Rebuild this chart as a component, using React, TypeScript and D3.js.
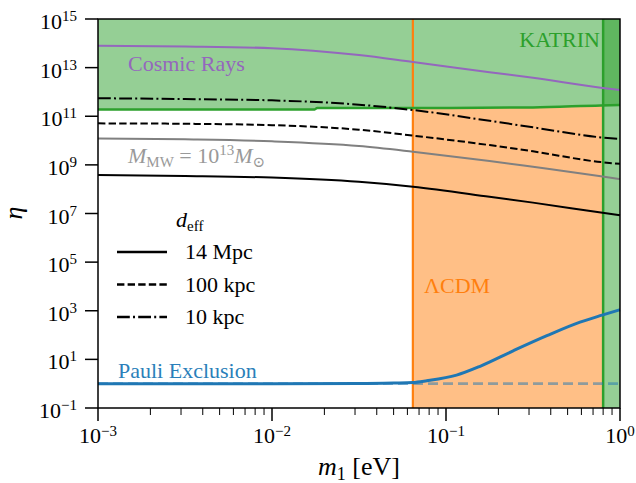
import React from 'react';
import * as d3 from 'd3';

// m1 grid (eV) shared by the d_eff / cosmic ray curves
const massGrid = [0.001, 0.00316, 0.01, 0.0316, 0.0646, 0.178, 0.316, 0.776, 1];
const etaCosmicRays = [7.9e13, 7.4e13, 6.3e13, 3.3e13, 1.7e13, 6.5e12, 3.8e12, 1.5e12, 1.2e12];
const eta10kpc = [5.5e11, 5.1e11, 4.5e11, 3.0e11, 1.8e11, 6.5e10, 3.5e10, 1.35e10, 1.15e10];
const eta100kpc = [5.1e10, 4.9e10, 4.3e10, 2.8e10, 1.6e10, 6.5e9, 3.6e9, 1.3e9, 1.1e9];
const etaMW = [1.23e10, 1.12e10, 9.3e9, 6.0e9, 3.5e9, 1.45e9, 8.3e8, 3.4e8, 2.6e8];
const eta14Mpc = [3.8e8, 3.5e8, 3.0e8, 2.0e8, 1.26e8, 4.9e7, 2.8e7, 1.1e7, 8.5e6];

// KATRIN bound on eta
const katrinMass = [0.001, 0.0176, 0.0182, 0.0646, 0.316, 0.776, 1];
const katrinEta = [1.9e11, 1.9e11, 2.2e11, 2.2e11, 2.3e11, 2.8e11, 2.9e11];

// Pauli exclusion
const pauliMass = [0.001, 0.01, 0.0316, 0.05, 0.0646, 0.0776, 0.115, 0.157, 0.243, 0.38, 0.589, 0.789, 1];
const pauliEta = [1.0, 1.0, 1.02, 1.07, 1.12, 1.32, 2.24, 5.2, 22.4, 94, 339, 660, 1100];
const pauliFlat = [1, 1];
const pauliFlatMass = [0.001, 1];

const lcdmMass = 0.0645;
const katrinMassLimit = 0.8;

const xTicks = [1e-3, 1e-2, 1e-1, 1];
const xTickExp = ['\u22123', '\u22122', '\u22121', '0'];
const yTicks = [1e-1, 1e1, 1e3, 1e5, 1e7, 1e9, 1e11, 1e13, 1e15];
const yTickExp = ['\u22121', '1', '3', '5', '7', '9', '11', '13', '15'];
const legendLabels = ['14 Mpc', '100 kpc', '10 kpc'];
const legendDash = ['none', '7.4,3.2', '12.8,3.2,2,3.2'];

const W = 636, H = 483;
const left = 98, right = 620, top = 19, bottom = 408;
const font = '"Liberation Serif", "DejaVu Serif", serif';

export default function App() {
    const x = d3.scaleLog().domain([1e-3, 1]).range([left, right]);
    const y = d3.scaleLog().domain([1e-1, 1e15]).range([bottom, top]);

    const zip = (ms: number[], es: number[]) => ms.map((m, i) => [m, es[i]] as [number, number]);
    const line = d3.line<[number, number]>()
        .x(d => x(d[0]))
        .y(d => y(d[1]))
        .curve(d3.curveMonotoneX);

    const katrinPts = zip(katrinMass, katrinEta);
    const topBand = d3.area<[number, number]>()
        .x(d => x(d[0]))
        .y0(y(1e15))
        .y1(d => y(d[1]))
        .curve(d3.curveMonotoneX)(katrinPts);
    const belowBand = d3.area<[number, number]>()
        .x(d => x(d[0]))
        .y0(y(1e-1))
        .y1(d => y(d[1]))
        .curve(d3.curveMonotoneX)(katrinPts);

    const minorTicks = x.ticks().filter(t => !xTicks.some(v => Math.abs(v - t) / v < 1e-6));

    const curves = [
        { vals: eta14Mpc, color: '#000', dash: 'none', w: 2 },
        { vals: eta100kpc, color: '#000', dash: '7.4,3.2', w: 2 },
        { vals: eta10kpc, color: '#000', dash: '12.8,3.2,2,3.2', w: 2 },
        { vals: etaMW, color: '#808080', dash: 'none', w: 2 },
        { vals: etaCosmicRays, color: '#9467bd', dash: 'none', w: 2 },
    ];

    const txt = { fontFamily: font };

    return (
        <svg width={W} height={H} style={{ position: 'absolute', left: 0, top: 0, background: '#fff', fontFamily: font }}>
            <defs>
                <clipPath id="below-katrin">
                    <path d={belowBand || ''} />
                </clipPath>
            </defs>

            {/* excluded regions */}
            <path d={topBand || ''} fill="#2ca02c" fillOpacity={0.5} />
            <rect x={x(lcdmMass)} y={top} width={x(katrinMassLimit) - x(lcdmMass)} height={bottom - top}
                fill="#ff7f0e" fillOpacity={0.5} clipPath="url(#below-katrin)" />
            <rect x={x(katrinMassLimit)} y={top} width={x(1) - x(katrinMassLimit)} height={bottom - top}
                fill="#2ca02c" fillOpacity={0.5} />

            <line x1={x(lcdmMass)} x2={x(lcdmMass)} y1={top} y2={bottom} stroke="#ff7f0e" strokeWidth={2.2} />
            <line x1={x(katrinMassLimit)} x2={x(katrinMassLimit)} y1={top} y2={bottom} stroke="#2ca02c" strokeWidth={2.5} />
            <path d={line(katrinPts) || ''} fill="none" stroke="#2ca02c" strokeWidth={2.5} />

            {curves.map((c, i) => (
                <path key={i} d={line(zip(massGrid, c.vals)) || ''} fill="none" stroke={c.color}
                    strokeWidth={c.w} strokeDasharray={c.dash} />
            ))}

            <path d={line(zip(pauliFlatMass, pauliFlat)) || ''} fill="none" stroke="#1f77b4" strokeOpacity={0.5}
                strokeWidth={2.8} strokeDasharray="10,5" />
            <path d={line(zip(pauliMass, pauliEta)) || ''} fill="none" stroke="#1f77b4" strokeWidth={3} />

            {/* annotations */}
            <text style={txt} x={128} y={71} fontSize={22} fill="#9467bd">Cosmic Rays</text>
            <text style={txt} x={600} y={47} fontSize={22} fill="#2ca02c" textAnchor="end">KATRIN</text>
            <text style={txt} x={128} y={163} fontSize={22} fill="#999">
                <tspan fontStyle="italic">M</tspan>
                <tspan fontSize={15} dy={4}>MW</tspan>
                <tspan dy={-4}> = 10</tspan>
                <tspan fontSize={15} dy={-8}>13</tspan>
                <tspan dy={8} fontStyle="italic">M</tspan>
                <tspan fontSize={15} dy={4}>{'\u2299'}</tspan>
            </text>
            <text style={txt} x={424} y={293} fontSize={22} fill="#ff7f0e">{'\u039BCDM'}</text>
            <text style={txt} x={118} y={378} fontSize={22} fill="#2a7fba">Pauli Exclusion</text>

            {/* legend */}
            <text style={txt} x={176} y={227} fontSize={22}>
                <tspan fontStyle="italic">d</tspan>
                <tspan fontSize={15} dy={4}>eff</tspan>
            </text>
            {legendLabels.map((lab, i) => {
                const ly = 252 + i * 32.5;
                return (
                    <g key={lab}>
                        <line x1={117} x2={167} y1={ly} y2={ly} stroke="#000" strokeWidth={2.5}
                            strokeDasharray={legendDash[i]} />
                        <text style={txt} x={185} y={ly + 7} fontSize={22}>{lab}</text>
                    </g>
                );
            })}

            {/* axes frame */}
            <rect x={left} y={top} width={right - left} height={bottom - top} fill="none" stroke="#000" strokeWidth={1.5} />

            {yTicks.map((t, i) => (
                <g key={'y' + i}>
                    <line x1={left - 13} x2={left} y1={y(t)} y2={y(t)} stroke="#000" strokeWidth={1.5} />
                    <text style={txt} x={77} y={y(t) + 10} fontSize={22} textAnchor="end">
                        10<tspan fontSize={15} dy={-8}>{yTickExp[i]}</tspan>
                    </text>
                </g>
            ))}
            {xTicks.map((t, i) => (
                <g key={'x' + i}>
                    <line x1={x(t)} x2={x(t)} y1={bottom} y2={bottom + 13} stroke="#000" strokeWidth={1.5} />
                    <text style={txt} x={x(t)} y={443} fontSize={22} textAnchor="middle">
                        10<tspan fontSize={15} dy={-7}>{xTickExp[i]}</tspan>
                    </text>
                </g>
            ))}
            {minorTicks.map((t, i) => (
                <line key={'m' + i} x1={x(t)} x2={x(t)} y1={bottom} y2={bottom + 7} stroke="#000" strokeWidth={1} />
            ))}

            <text style={txt} x={359} y={475} fontSize={26} textAnchor="middle">
                <tspan fontStyle="italic">m</tspan>
                <tspan fontSize={18} dy={5}>1</tspan>
                <tspan dy={-5}> [eV]</tspan>
            </text>
            <text style={txt} transform="translate(22,213) rotate(-90)" fontSize={26} fontStyle="italic" textAnchor="middle">{'\u03B7'}</text>
        </svg>
    );
}
